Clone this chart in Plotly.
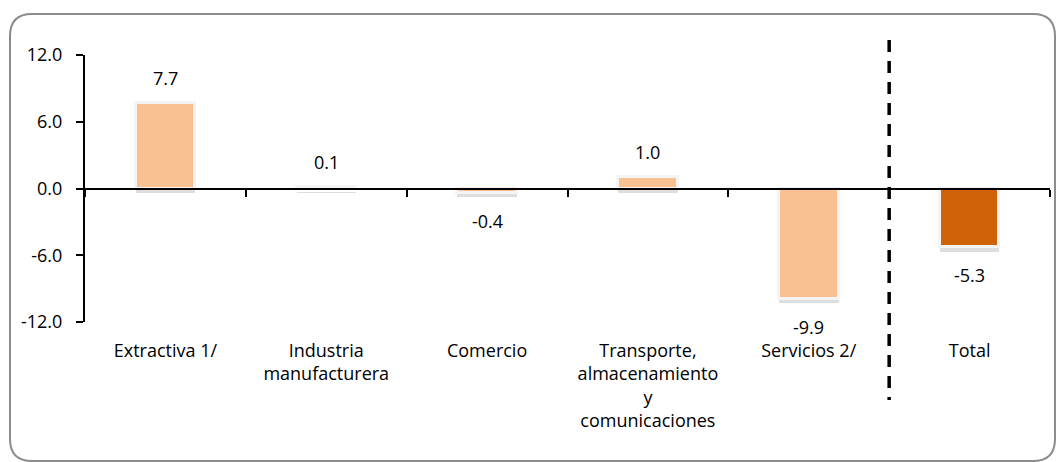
import plotly.graph_objects as go

categories = ["Extractiva 1/", "Industria<br>manufacturera", "Comercio",
              "Transporte,<br>almacenamiento<br>y<br>comunicaciones", "Servicios 2/", "Total"]
values = [7.7, 0.1, -0.4, 1.0, -9.9, -5.3]
value_labels = ["7.7", "0.1", "-0.4", "1.0", "-9.9", "-5.3"]
colors = ["#F9C091", "#F9C091", "#F9C091", "#F9C091", "#F9C091", "#CF6209"]
y_ticks = [-12, -6, 0, 6, 12]
y_tick_text = ["-12.0", "-6.0", "0.0", "6.0", "12.0"]

xs = list(range(len(categories)))
FONT = "Open Sans, Liberation Sans, sans-serif"
FS = 18

fig = go.Figure()

# drop shadow
fig.add_trace(go.Bar(
    x=xs, y=values, base=[-0.4] * len(values), width=0.37,
    marker=dict(color="rgba(0,0,0,0.13)", line=dict(width=0)),
    hoverinfo="skip", showlegend=False,
))
fig.add_trace(go.Bar(
    x=xs, y=values, width=0.37,
    marker=dict(color=colors, line=dict(color="#f4f4f4", width=3)),
    hoverinfo="skip", showlegend=False,
))

for x, v, t in zip(xs, values, value_labels):
    fig.add_annotation(x=x, y=v, text=t, showarrow=False,
                       yshift=25 if v >= 0 else -28,
                       font=dict(family=FONT, size=FS, color="#000"))

# plot geometry in px, for converting frame to paper coords
L, R, T, B = 85, 6, 55, 140
W, H = 1056, 462
pw, ph = W - L - R, H - T - B

def px(x):
    return (x - L) / pw

def py(y):
    return (H - B - y) / ph

x0, x1, y0, y1 = px(10), px(1055), py(14), py(461)
rx, ry = 22 / pw, 22 / ph
path = (f"M {x0+rx} {y0} L {x1-rx} {y0} Q {x1} {y0} {x1} {y0-ry} "
        f"L {x1} {y1+ry} Q {x1} {y1} {x1-rx} {y1} "
        f"L {x0+rx} {y1} Q {x0} {y1} {x0} {y1+ry} "
        f"L {x0} {y0-ry} Q {x0} {y0} {x0+rx} {y0} Z")
fig.add_shape(type="path", path=path, xref="paper", yref="paper",
              line=dict(color="#8c8c8c", width=2), layer="below")

# dashed separator before Total
fig.add_shape(type="line", x0=4.5, x1=4.5, xref="x", y0=py(40), y1=py(400), yref="paper",
              line=dict(color="black", width=3.5, dash="12px,9px"))

fig.update_layout(
    width=W, height=H,
    margin=dict(l=L, r=R, t=T, b=B),
    paper_bgcolor="white", plot_bgcolor="white",
    bargap=0, barmode="overlay",
    font=dict(family=FONT, size=FS, color="#000"),
    xaxis=dict(range=[-0.5, 5.5], tickvals=xs, ticktext=categories,
               showline=False, ticks="", showgrid=False, zeroline=False,
               ticklabelstandoff=16, tickfont=dict(size=FS)),
    xaxis2=dict(range=[-0.5, 5.5], overlaying="x", anchor="free", position=0.5,
                side="bottom", showline=True, linecolor="black", linewidth=2,
                tickvals=[i + 0.5 for i in range(-1, 6)], ticks="outside",
                ticklen=7, tickwidth=2, tickcolor="black",
                showticklabels=False, showgrid=False, zeroline=False),
    yaxis=dict(range=[-12, 12], tickvals=y_ticks, ticktext=y_tick_text,
               showline=True, linecolor="black", linewidth=2,
               ticks="outside", ticklen=7, tickwidth=2, tickcolor="black",
               ticklabelstandoff=10,
               showgrid=False, zeroline=False, tickfont=dict(size=FS)),
)
# invisible trace to activate xaxis2
fig.add_trace(go.Scatter(x=[0], y=[0], xaxis="x2", mode="markers",
                         marker=dict(opacity=0), hoverinfo="skip", showlegend=False))

fig.write_html("out.html", config={"displayModeBar": False},
               post_script="document.body.style.margin='0';")
